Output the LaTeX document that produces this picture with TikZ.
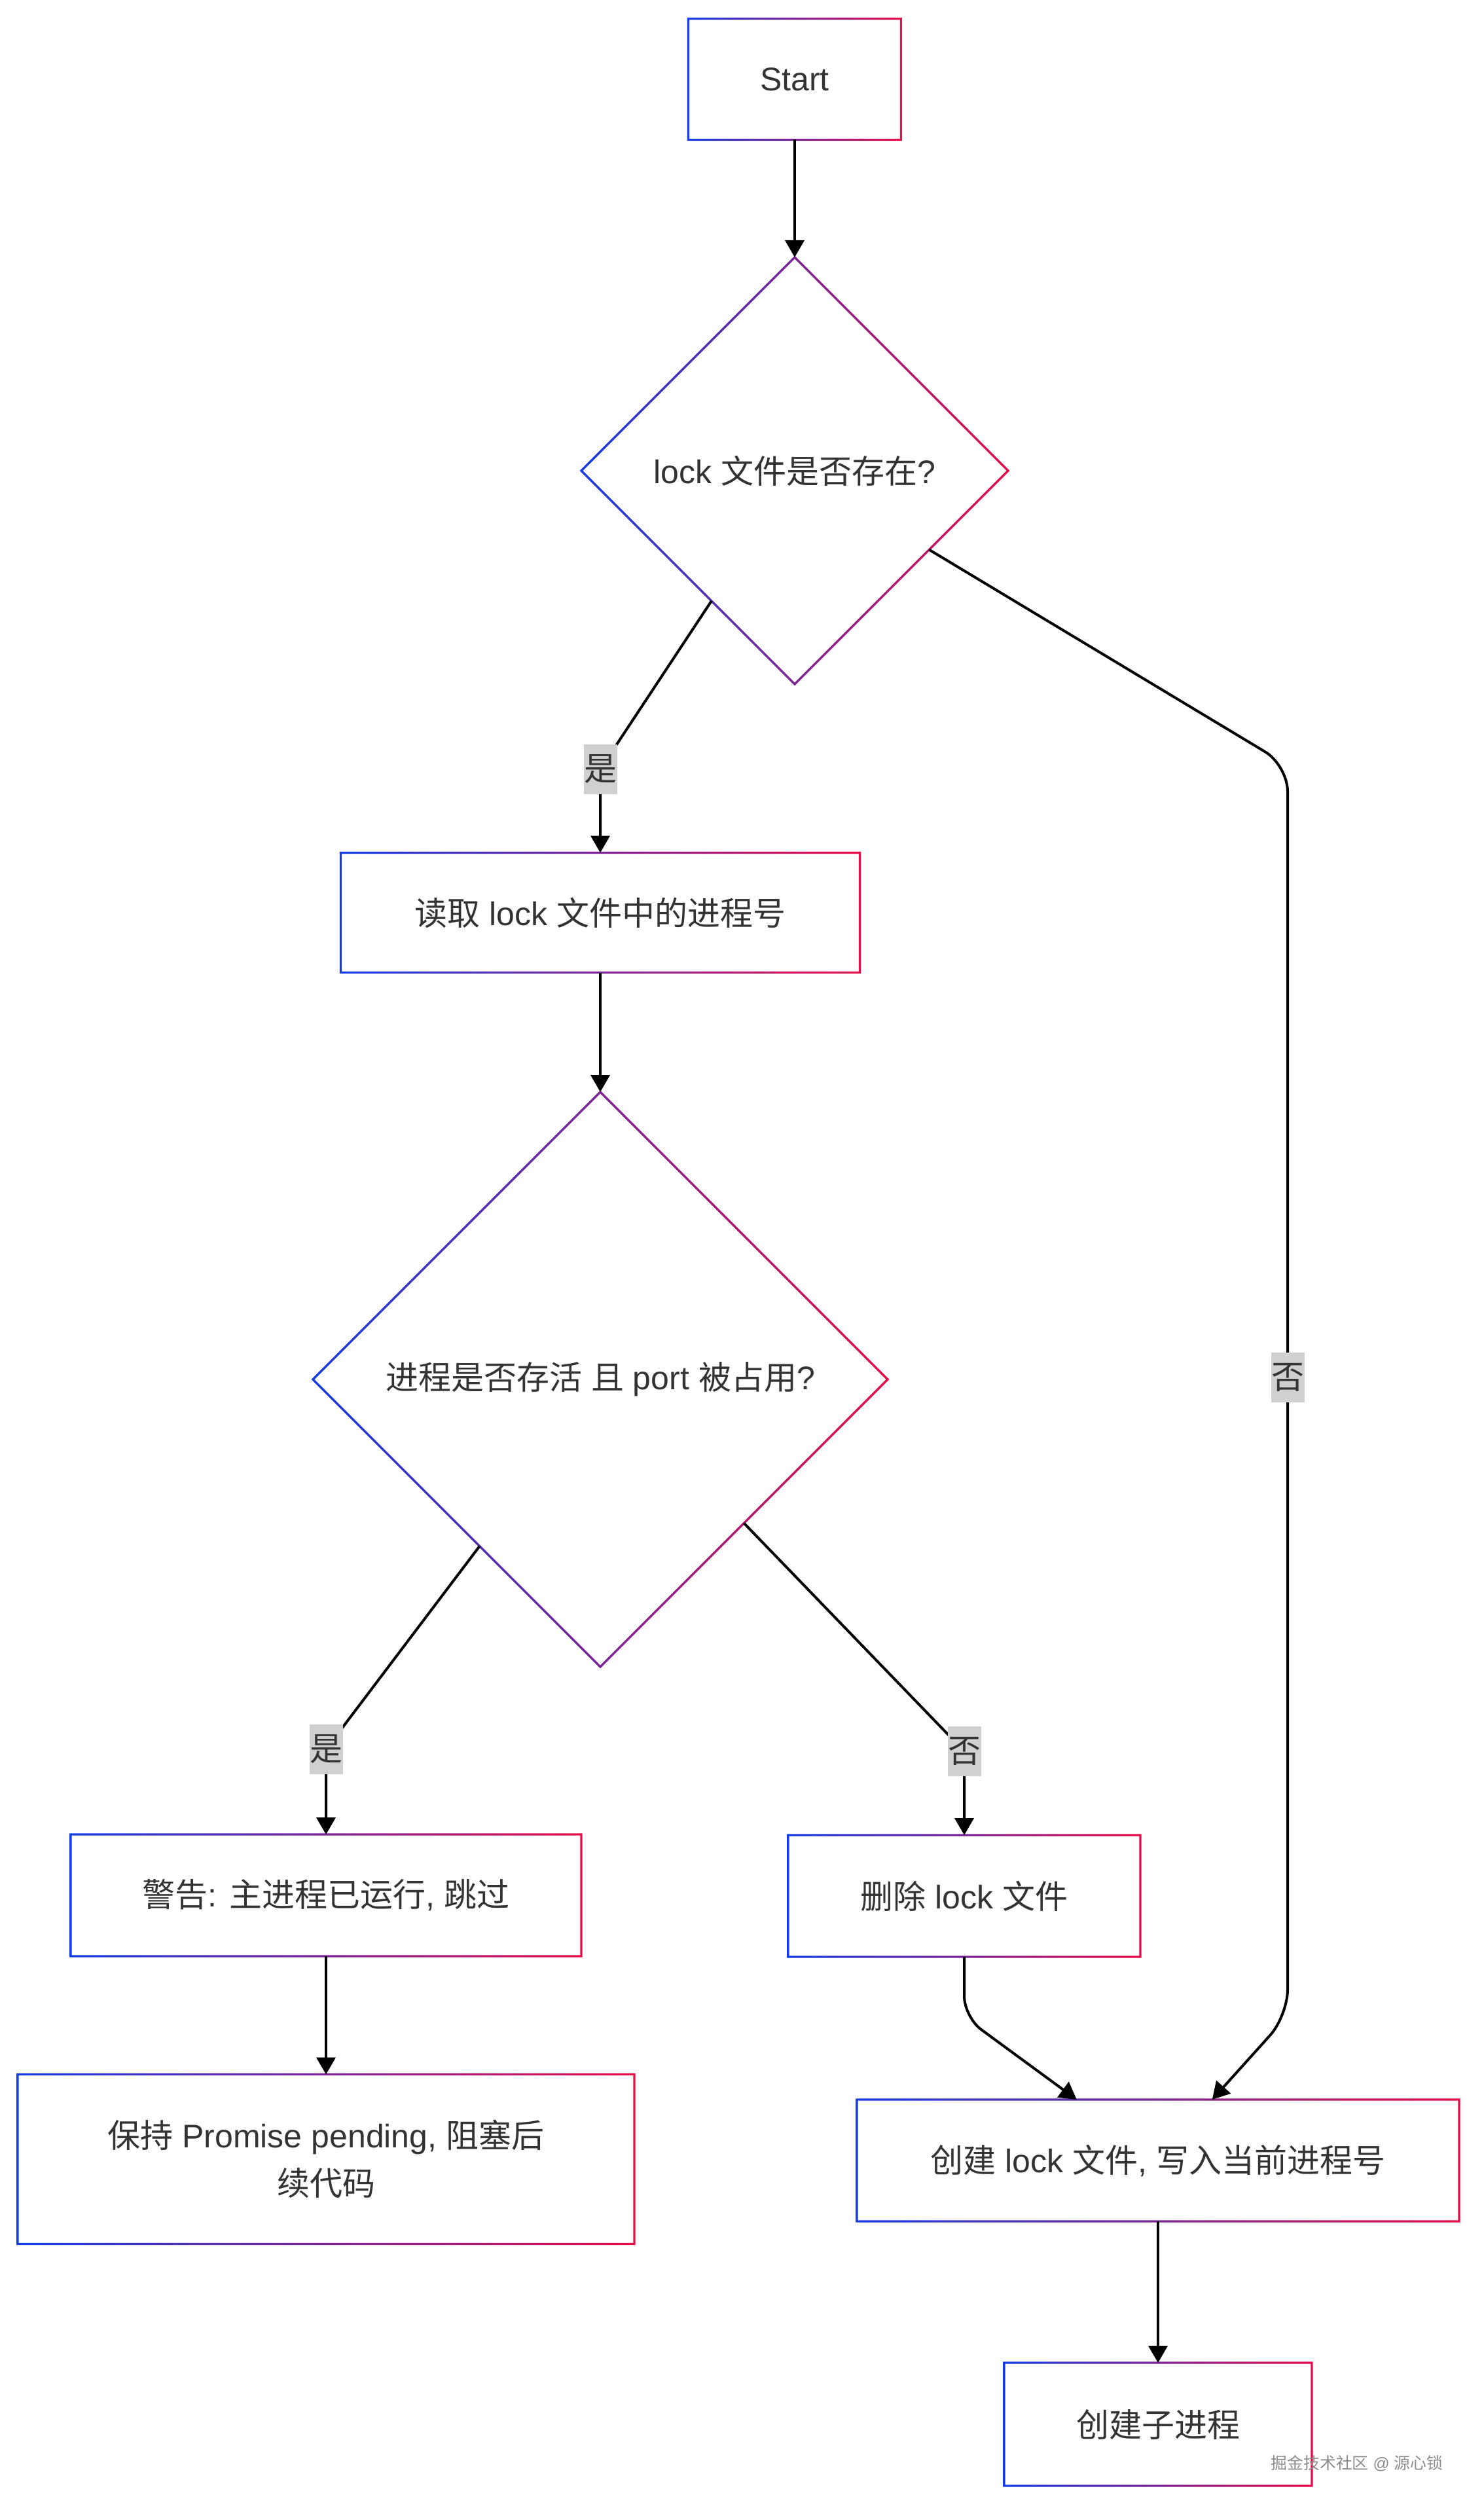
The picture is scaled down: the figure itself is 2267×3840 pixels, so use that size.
\documentclass[tikz,border=0pt]{standalone}
\usepackage{fontspec}
\setmainfont{Liberation Sans}
\newfontfamily\cjk{Noto Sans CJK SC}
\usetikzlibrary{shapes.geometric,arrows.meta,calc}
\definecolor{gb}{RGB}{20,60,230}
\definecolor{gr}{RGB}{232,12,72}
\definecolor{txt}{RGB}{51,51,51}
\definecolor{lblbg}{RGB}{208,208,208}
\definecolor{wm}{RGB}{140,140,140}
\newcommand\zh[1]{{\cjk #1}}
\newcommand\gradrect[1]{%
  \shade[left color=gb, right color=gr, even odd rule]
    ([shift={(-0.42pt,0.42pt)}]#1.north west) rectangle ([shift={(0.42pt,-0.42pt)}]#1.south east)
    ([shift={(0.42pt,-0.42pt)}]#1.north west) rectangle ([shift={(-0.42pt,0.42pt)}]#1.south east);}
\newcommand\graddiamond[1]{%
  \shade[left color=gb, right color=gr, even odd rule]
    ([yshift=0.6pt]#1.north) -- ([xshift=0.6pt]#1.east) -- ([yshift=-0.6pt]#1.south) -- ([xshift=-0.6pt]#1.west) -- cycle
    ([yshift=-0.6pt]#1.north) -- ([xshift=-0.6pt]#1.east) -- ([yshift=0.6pt]#1.south) -- ([xshift=0.6pt]#1.west) -- cycle;}
\begin{document}
\begin{tikzpicture}[x=0.25pt, y=-0.25pt,
  font=\fontsize{12.5pt}{15pt}\selectfont, text=txt,
  box/.style={rectangle, inner sep=0pt, outer sep=0pt},
  dia/.style={diamond, inner sep=0pt, outer sep=0pt, minimum width=#1, minimum height=#1},
  conn/.style={draw=black, line width=1pt, -{Triangle[length=6.5pt,width=7.25pt]}},
  lblbox/.style={fill=lblbg, inner sep=0pt, minimum width=12.75pt, minimum height=19pt}]
\fill[white] (0,0) rectangle (2267,3840);
\useasboundingbox (0,0) rectangle (2267,3840);

% nodes
\node[box, minimum width=81.25pt, minimum height=46.25pt] (start) at (1214,121) {Start};
\node[dia=163pt] (d1) at (1214,719) {lock \zh{文件是否存在}?};
\node[box, minimum width=198.25pt, minimum height=45.75pt] (b2) at (917,1394) {\zh{读取} lock \zh{文件中的进程号}};
\node[dia=219.5pt] (d2) at (917,2107) {\zh{进程是否存活} \zh{且} port \zh{被占用}?};
\node[box, minimum width=195pt, minimum height=46.5pt] (warn) at (498,2895) {\zh{警告}: \zh{主进程已运行}, \zh{跳过}};
\node[box, minimum width=134.5pt, minimum height=46.5pt] (del) at (1473,2896) {\zh{删除} lock \zh{文件}};
\node[box, minimum width=235.5pt, minimum height=64.75pt, align=center, font=\fontsize{12.5pt}{18.25pt}\selectfont] (keep) at (498,3298) {\zh{保持} Promise pending, \zh{阻塞后}\\\zh{续代码}};
\node[box, minimum width=230pt, minimum height=46.5pt] (create) at (1769,3300) {\zh{创建} lock \zh{文件}, \zh{写入当前进程号}};
\node[box, minimum width=117.5pt, minimum height=47pt] (child) at (1769,3703) {\zh{创建子进程}};

% gradient borders
\gradrect{start}
\graddiamond{d1}
\gradrect{b2}
\graddiamond{d2}
\gradrect{warn}
\gradrect{del}
\gradrect{keep}
\gradrect{create}
\gradrect{child}

% helper coordinates
\coordinate (d1l) at ($(d1.west)!0.61!(d1.south)$);
\coordinate (d1r) at ($(d1.east)!0.37!(d1.south)$);
\coordinate (d2l) at ($(d2.west)!0.58!(d2.south)$);
\coordinate (d2r) at ($(d2.east)!0.5!(d2.south)$);
\coordinate (l1) at (917,1175);
\coordinate (l2) at (1967,2104);
\coordinate (l3) at (498,2672);
\coordinate (l4) at (1473,2675);
\coordinate (c1) at (1967,1169);
\coordinate (c2) at (1967,3079);
\coordinate (c3) at (1473,3081);
\coordinate (ct1) at ($(create.north west)!0.365!(create.north east)$);
\coordinate (ct2) at ($(create.north west)!0.59!(create.north east)$);

% connectors
\draw[conn] (start.south) -- (d1.north);
\draw[conn] (d1l) -- (l1) -- (b2.north);
\draw[conn, rounded corners=10pt] (d1r) -- (c1) -- (l2) -- (c2) -- (ct2);
\draw[conn] (b2.south) -- (d2.north);
\draw[conn] (d2l) -- (l3) -- (warn.north);
\draw[conn] (d2r) -- (l4) -- (del.north);
\draw[conn] (warn.south) -- (keep.north);
\draw[conn, rounded corners=8pt] (del.south) -- (c3) -- (ct1);
\draw[conn] (create.south) -- (child.north);

% edge labels
\node[lblbox] (y1) at (l1) {\zh{是}};
\node[lblbox] (n1) at (l2) {\zh{否}};
\node[lblbox] (y2) at (l3) {\zh{是}};
\node[lblbox] (n2) at (l4) {\zh{否}};

% watermark
\node[font=\fontsize{6.2pt}{7pt}\selectfont, text=wm, inner sep=0pt] (wmark) at (2073,3763) {\zh{掘金技术社区} @ \zh{源心锁}};
\end{tikzpicture}
\end{document}
